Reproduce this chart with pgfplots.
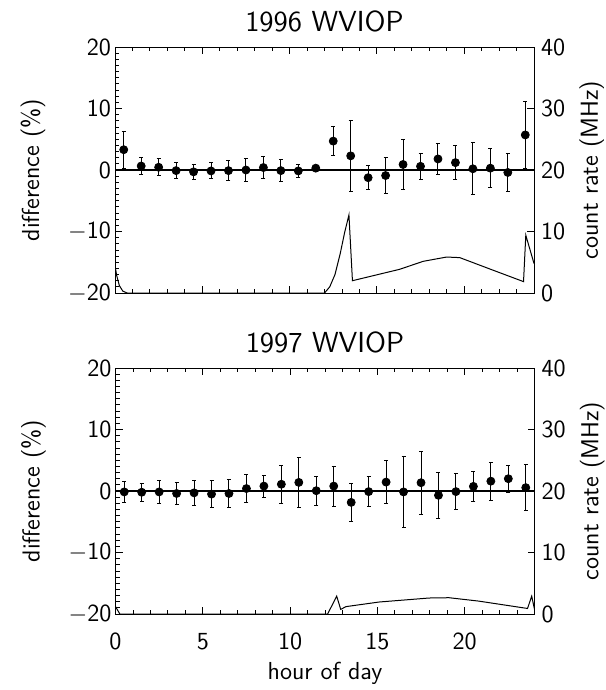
\documentclass[border=0pt]{standalone}
\usepackage{pgfplots}
\usepackage{pgfplotstable}
\pgfplotsset{compat=1.18}

\pgfplotstableread{
x y e
0.5 3.3 3.0
1.5 0.65 1.4
2.5 0.45 1.4
3.5 -0.1 1.3
4.5 -0.3 1.2
5.5 -0.15 1.3
6.5 -0.1 1.6
7.5 0.0 1.8
8.5 0.4 1.8
9.5 -0.1 1.8
10.5 -0.15 1.1
11.5 0.3 0.3
12.5 4.7 2.3
13.5 2.3 5.8
14.5 -1.25 2.0
15.5 -0.9 3.0
16.5 0.9 4.0
17.5 0.6 2.1
18.5 1.8 2.5
19.5 1.2 2.8
20.5 0.2 4.2
21.5 0.3 3.2
22.5 -0.4 3.1
23.5 5.7 5.4
}\diffA

\pgfplotstableread{
x c
0 4.5
0.1 2.8
0.25 1.2
0.45 0.3
0.7 0
12.0 0
12.3 1
12.6 3
12.9 6.4
13.15 9.8
13.4 12.7
13.6 2.0
16.3 3.85
17.65 5.15
19.0 5.85
19.75 5.75
21.85 3.5
23.4 1.85
23.53 9.4
24 4.8
}\rateA

\pgfplotstableread{
x y e
0.5 -0.15 1.75
1.5 -0.2 1.5
2.5 -0.15 1.8
3.5 -0.4 1.8
4.5 -0.3 2.0
5.5 -0.5 2.2
6.5 -0.4 2.3
7.5 0.4 2.3
8.5 0.8 1.8
9.5 1.1 3.05
10.5 1.4 4.1
11.5 0.05 2.35
12.5 0.8 3.25
13.5 -1.85 3.1
14.5 -0.1 2.5
15.5 1.45 3.5
16.5 -0.15 5.8
17.5 1.35 5.1
18.5 -0.7 3.7
19.5 -0.1 2.9
20.5 0.75 2.4
21.5 1.6 3.1
22.5 2.0 2.2
23.5 0.55 3.8
}\diffB

\pgfplotstableread{
x c
0 1.2
0.25 0
12.15 0
12.67 2.9
12.9 0.75
13.2 1.2
15.1 1.95
17.96 2.6
19.1 2.65
20.8 2.1
23.6 0.9
23.84 2.9
24 0.75
}\rateB

\pgfplotsset{
  panel/.style={
    scale only axis, width=209.5pt, height=123pt,
    xmin=0, xmax=24,
    font=\sffamily\fontsize{12.3}{14}\selectfont,
    /pgf/number format/assume math mode=true,
    axis line style={line width=0.5pt},
    every tick/.style={black, line width=0.45pt},
    every minor tick/.style={black, line width=0.45pt},
    major tick length=3.5pt, minor tick length=2pt,
  },
  leftax/.style={
    panel, ymin=-20, ymax=20,
    xtick={0,5,10,15,20}, minor xtick={1,2,3,4,6,7,8,9,11,12,13,14,16,17,18,19,21,22,23},
    ytick={-20,-10,0,10,20}, minor ytick={-19,-18,...,19},
    yticklabels={$-$20,$-$10,0,10,20},
    ytick pos=left,
    yticklabel style={xshift=1.5pt},
    every axis y label/.style={at={(axis description cs:-0.196,0.5)}, rotate=90, anchor=center},
    ylabel={difference (\%)},
    every axis title/.style={at={(axis description cs:0.5,1.102)}, anchor=center, font=\sffamily\fontsize{14.5}{16}\selectfont},
  },
  rightax/.style={
    panel, ymin=0, ymax=40,
    axis y line*=right, axis x line=none,
    ytick={0,10,20,30,40}, minor y tick num=0,
    every axis y label/.style={at={(axis description cs:1.138,0.5)}, rotate=90, anchor=center},
    ylabel={count rate (MHz)},
  },
  pts/.style={black, only marks, mark=*, mark size=2pt,
    mark options={fill=black, draw=black},
    error bars/.cd, y dir=both, y explicit,
    error bar style={line width=0.5pt, black},
    error mark options={rotate=90, mark size=1pt, line width=0.5pt, black}},
}

\begin{document}
\begin{tikzpicture}
\useasboundingbox (0,0) rectangle (302.5pt,-345pt);

% ---- top panel ----
\begin{axis}[leftax, at={(57.5pt,-146.5pt)}, anchor=south west,
  xticklabels={}, title={1996 WVIOP}]
  \addplot[black, line width=0.6pt] coordinates {(0,0) (24,0)};
  \addplot[pts] table[x=x, y=y, y error=e] {\diffA};
\end{axis}
\begin{axis}[rightax, at={(57.5pt,-146.5pt)}, anchor=south west]
  \addplot[black, line width=0.5pt] table[x=x, y=c] {\rateA};
\end{axis}

% ---- bottom panel ----
\begin{axis}[leftax, at={(57.75pt,-307pt)}, anchor=south west,
  title={1997 WVIOP},
  xticklabel style={yshift=-6pt},
  every axis x label/.style={at={(axis description cs:0.5,-0.24)}, anchor=center},
  xlabel={hour of day}]
  \addplot[black, line width=0.6pt] coordinates {(0,0) (24,0)};
  \addplot[pts] table[x=x, y=y, y error=e] {\diffB};
\end{axis}
\begin{axis}[rightax, at={(57.75pt,-307pt)}, anchor=south west]
  \addplot[black, line width=0.5pt] table[x=x, y=c] {\rateB};
\end{axis}
\end{tikzpicture}
\end{document}
